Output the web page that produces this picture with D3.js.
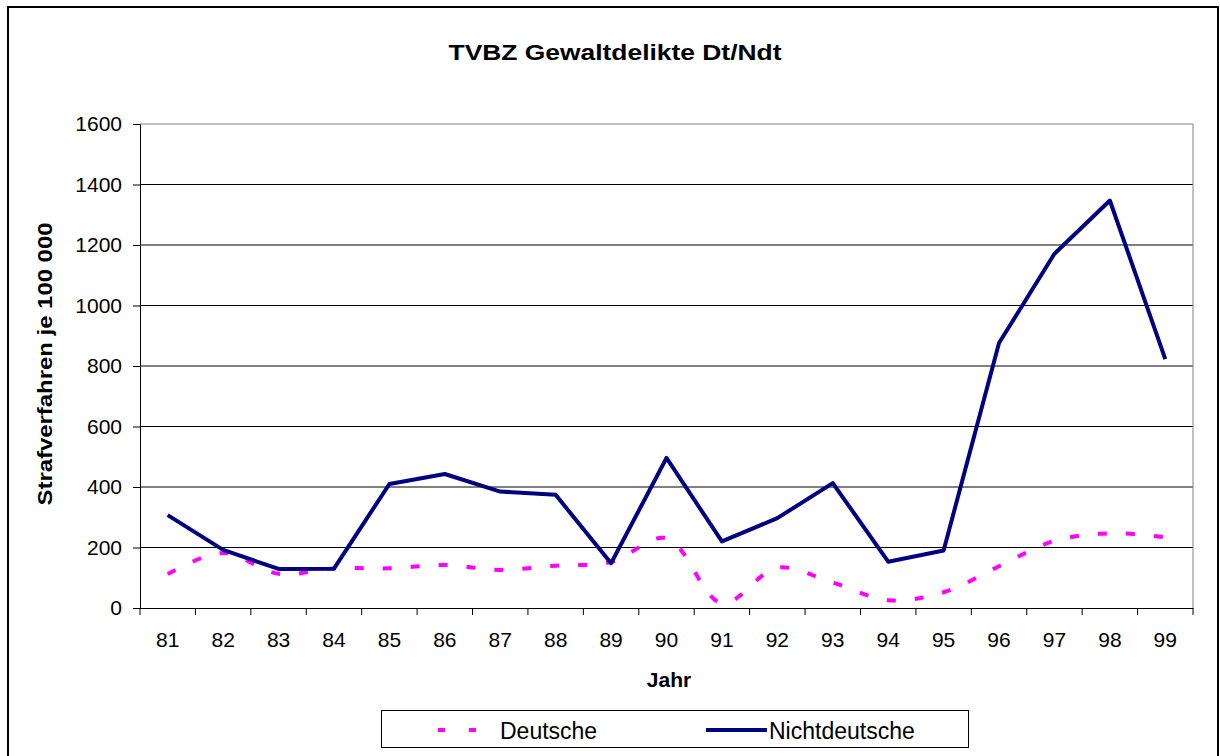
<!DOCTYPE html>
<html>
<head>
<meta charset="utf-8">
<script src="https://cdn.jsdelivr.net/npm/d3@7"></script>
<style>
  body { margin: 0; background: #fff; }
  text { font-family: "Liberation Sans", Arial, sans-serif; }
</style>
</head>
<body>
<svg width="1220" height="756"></svg>
<script>
(function () {
  'use strict';

  var years = ['81','82','83','84','85','86','87','88','89','90','91','92','93','94','95','96','97','98','99'];
  var deutsche = [112, 182, 113, 131, 131, 142, 126, 140, 152, 231, 16, 133, 84, 26, 52, 138, 222, 247, 234];
  var nichtdeutsche = [307, 192, 129, 130, 410, 443, 385, 374, 148, 496, 220, 297, 413, 153, 190, 876, 1171, 1347, 823];
  var yTicks = [0, 200, 400, 600, 800, 1000, 1200, 1400, 1600];

  var svg = d3.select('svg');
  var left = 140, right = 1193, top = 124, bottom = 608;

  // outer frame
  svg.append('rect')
      .attr('x', 8).attr('y', 7)
      .attr('width', 1210).attr('height', 760)
      .attr('fill', 'none').attr('stroke', '#000').attr('stroke-width', 2);

  svg.append('text')
      .attr('x', 615).attr('y', 60)
      .attr('text-anchor', 'middle')
      .attr('textLength', 333).attr('lengthAdjust', 'spacingAndGlyphs')
      .style('font-size', '22px').style('font-weight', 'bold')
      .text('TVBZ Gewaltdelikte Dt/Ndt');

  var x = d3.scaleBand().domain(years).range([left, right]);
  var y = d3.scaleLinear().domain([0, 1600]).range([bottom, top]);

  // gridlines
  svg.append('g').selectAll('line')
      .data(yTicks.slice(1))
      .enter().append('line')
      .attr('x1', left).attr('x2', right)
      .attr('y1', function (d) { return y(d); })
      .attr('y2', function (d) { return y(d); })
      .attr('stroke', function (d) { return d === 1600 ? '#808080' : '#000'; })
      .attr('stroke-width', 1);

  // right border of plot area
  svg.append('line')
      .attr('x1', right).attr('x2', right)
      .attr('y1', top).attr('y2', bottom)
      .attr('stroke', '#808080');

  // y axis
  var yAxis = svg.append('g')
      .attr('transform', 'translate(' + left + ',0)')
      .call(d3.axisLeft(y).tickValues(yTicks).tickSize(7).tickPadding(11).tickFormat(d3.format('d')));
  yAxis.selectAll('text').style('font-size', '21px').attr('fill', '#000');
  yAxis.select('.domain').attr('stroke', '#000');
  yAxis.selectAll('.tick line').attr('stroke', '#000');

  // x axis with ticks at category boundaries
  var xAxis = svg.append('g')
      .attr('transform', 'translate(0,' + bottom + ')')
      .call(d3.axisBottom(x).tickSize(0).tickPadding(24));
  xAxis.selectAll('text').style('font-size', '21px').attr('fill', '#000');
  xAxis.select('.domain').attr('stroke', '#000');
  xAxis.append('g').selectAll('line')
      .data(years.concat(['end']))
      .enter().append('line')
      .attr('x1', function (d, i) { return left + i * x.step(); })
      .attr('x2', function (d, i) { return left + i * x.step(); })
      .attr('y1', 0).attr('y2', 7)
      .attr('stroke', '#000');

  svg.append('text')
      .attr('x', 669).attr('y', 687)
      .attr('text-anchor', 'middle')
      .style('font-size', '21px').style('font-weight', 'bold')
      .text('Jahr');

  svg.append('text')
      .attr('transform', 'translate(52,364) rotate(-90)')
      .attr('text-anchor', 'middle')
      .attr('textLength', 283).attr('lengthAdjust', 'spacingAndGlyphs')
      .style('font-size', '21px').style('font-weight', 'bold')
      .text('Strafverfahren je 100 000');

  var cx = function (d, i) { return x(years[i]) + x.bandwidth() / 2; };

  var lineSmooth = d3.line()
      .x(cx).y(function (d) { return y(d); })
      .curve(d3.curveCatmullRom.alpha(0.5));
  var lineStraight = d3.line()
      .x(cx).y(function (d) { return y(d); });

  svg.append('path')
      .datum(deutsche)
      .attr('d', lineSmooth)
      .attr('fill', 'none')
      .attr('stroke', '#ff00ff')
      .attr('stroke-width', 4)
      .attr('stroke-dasharray', '9,19');

  svg.append('path')
      .datum(nichtdeutsche)
      .attr('d', lineStraight)
      .attr('fill', 'none')
      .attr('stroke', '#000080')
      .attr('stroke-width', 4)
      .attr('stroke-linejoin', 'round');

  // legend
  var lg = svg.append('g');
  lg.append('rect')
      .attr('x', 381.5).attr('y', 710.5)
      .attr('width', 587).attr('height', 37)
      .attr('fill', '#fff').attr('stroke', '#000');
  lg.append('line')
      .attr('x1', 438).attr('x2', 478).attr('y1', 730).attr('y2', 730)
      .attr('stroke', '#ff00ff').attr('stroke-width', 4)
      .attr('stroke-dasharray', '7,24');
  lg.append('text')
      .attr('x', 500).attr('y', 739)
      .style('font-size', '23px')
      .text('Deutsche');
  lg.append('line')
      .attr('x1', 706).attr('x2', 767).attr('y1', 730).attr('y2', 730)
      .attr('stroke', '#000080').attr('stroke-width', 4);
  lg.append('text')
      .attr('x', 769).attr('y', 739)
      .style('font-size', '23px')
      .text('Nichtdeutsche');

}());
</script>
</body>
</html>
